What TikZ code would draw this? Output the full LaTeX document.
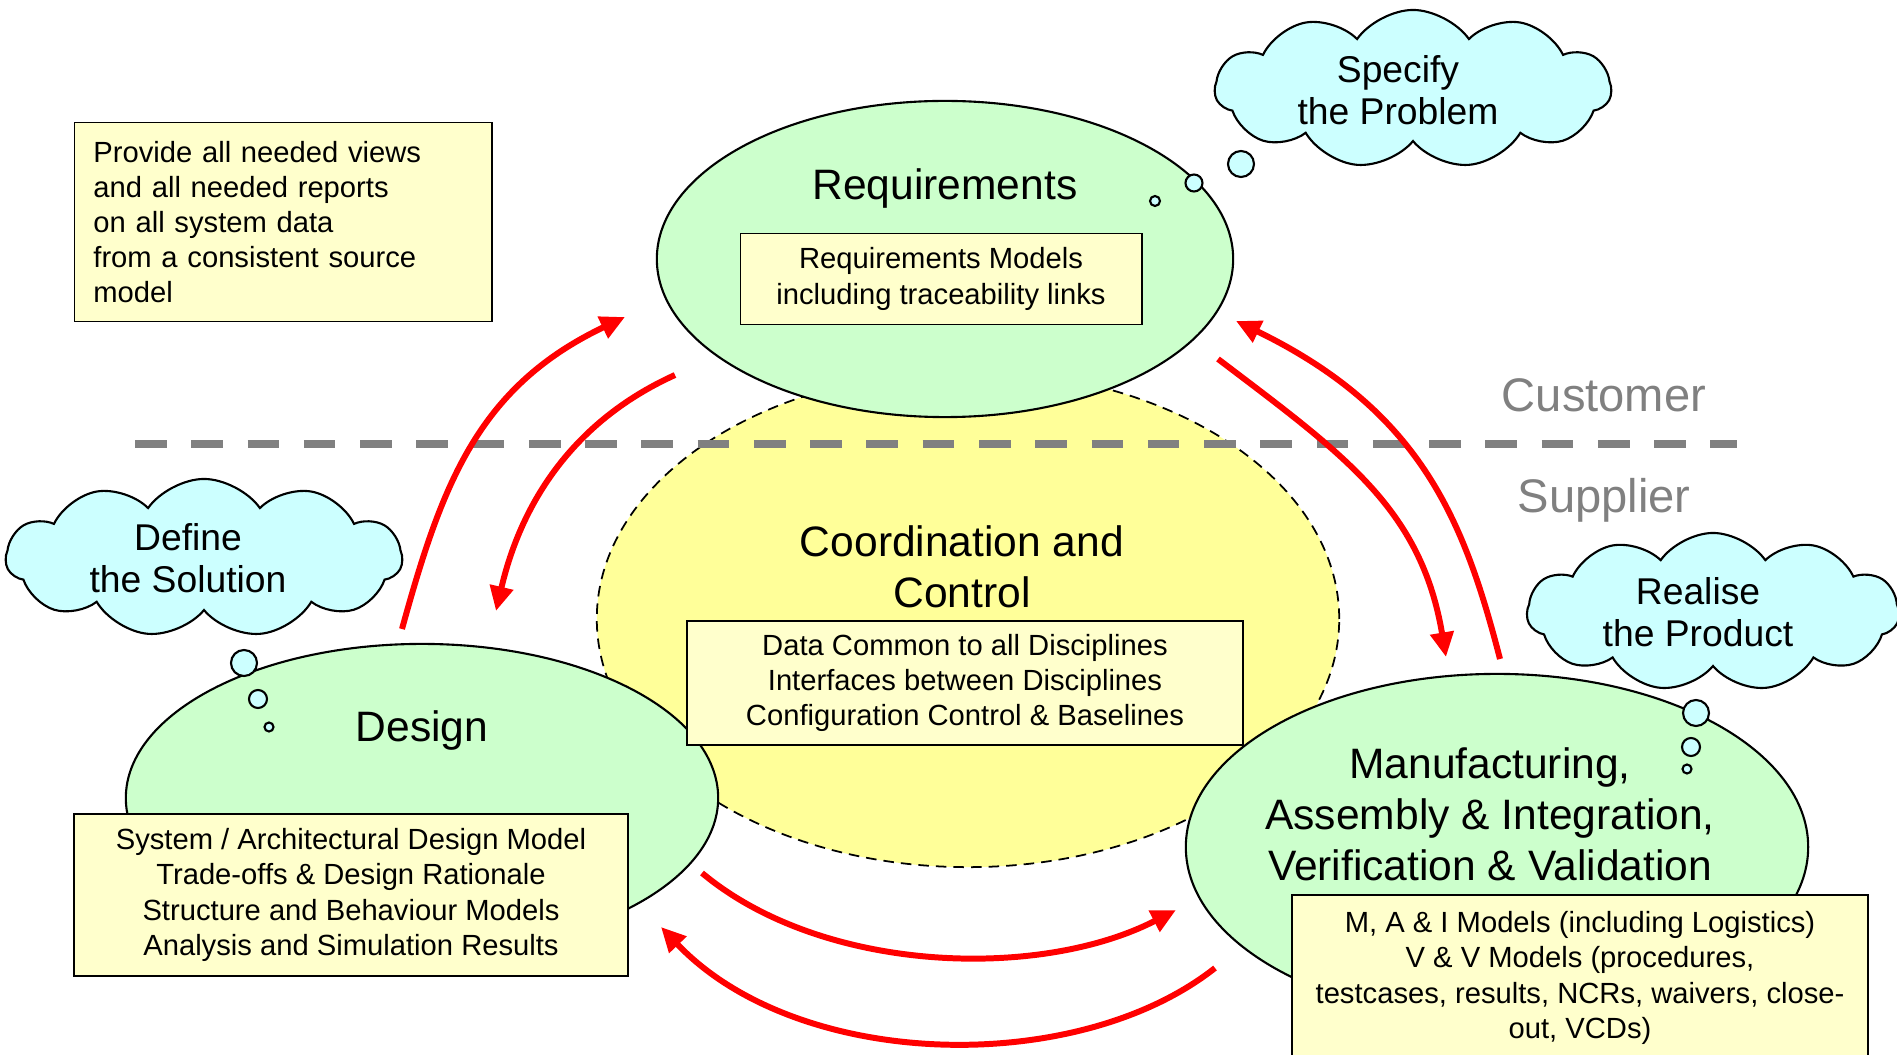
\documentclass[tikz,border=0pt]{standalone}
\usepackage{fontspec}
\setmainfont{Liberation Sans}
\usetikzlibrary{shapes.geometric,shapes.symbols,arrows.meta}

\definecolor{phasegreen}{RGB}{204,255,204}
\definecolor{coordyellow}{RGB}{255,255,153}
\definecolor{boxyellow}{RGB}{255,255,204}
\definecolor{cloudcyan}{RGB}{204,255,255}

\begin{document}
\begin{tikzpicture}[x=0.01cm, y=-0.01cm,
  phase/.style={ellipse, draw, fill=phasegreen, line width=0.6pt, inner sep=0pt},
  infobox/.style={draw, fill=boxyellow, line width=0.5pt, align=center,
    font=\fontsize{8.3}{10}\selectfont, inner sep=0pt},
  thought/.style={cloud, cloud puffs=11, cloud puff arc=110, cloud ignores aspect,
    draw, fill=cloudcyan, line width=0.6pt, minimum width=3.96cm, minimum height=1.58cm, inner sep=0pt},
  thoughttext/.style={align=center, font=\fontsize{10.6}{12}\selectfont},
  puff/.style={draw, fill=cloudcyan, line width=0.6pt},
  title/.style={align=center, font=\fontsize{12.1}{14.5}\selectfont},
  side/.style={text=gray, font=\fontsize{13.4}{16}\selectfont},
  flow/.style={draw=red, line width=1.7pt, -{Triangle[length=7pt,width=6.5pt]}}]
  \clip (0,0) rectangle (1897,1055);
  % coordination in the middle
  \node[ellipse, draw, dash pattern=on 3pt off 2pt, fill=coordyellow, line width=0.5pt,
    minimum width=7.42cm, minimum height=4.96cm, inner sep=0pt] (coord) at (968,619) {};
  % the three phases
  \node[phase, minimum width=5.76cm, minimum height=3.16cm] (req) at (945,259) {};
  \node[phase, minimum width=5.92cm, minimum height=3.08cm] (design) at (422,798) {};
  \node[phase, minimum width=6.22cm, minimum height=3.46cm] (mai) at (1497,847) {};
  % titles
  \node[title] (reqtitle) at (945,189) {Requirements};
  \node[title] (coordtitle) at (962,567) {Coordination and\\Control};
  \node[title] (designtitle) at (422,730) {Design};
  \node[title] (maititle) at (1490,814) {Manufacturing,\\Assembly \& Integration,\\Verification \& Validation};
  % model boxes
  \node[infobox, minimum width=4.01cm, minimum height=0.91cm] (reqmodels) at (941,279)
    {Requirements Models\\including traceability links};
  \node[infobox, minimum width=5.55cm, minimum height=1.24cm] (common) at (965,683)
    {Data Common to all Disciplines\\Interfaces between Disciplines\\Configuration Control \& Baselines};
  \node[infobox, minimum width=5.53cm, minimum height=1.62cm] (designmodels) at (351,895)
    {System / Architectural Design Model\\Trade-offs \& Design Rationale\\Structure and Behaviour Models\\Analysis and Simulation Results};
  \node[infobox, minimum width=5.76cm, minimum height=1.66cm] (maimodels) at (1580,978)
    {M, A \& I Models (including Logistics)\\V \& V Models (procedures,\\testcases, results, NCRs, waivers, close-\\out, VCDs)};
  \node[infobox, align=left, text width=3.79cm, minimum height=1.99cm, inner xsep=0.19cm] (note) at (283,222)
    {Provide all needed views\\and all needed reports\\on all system data\\from a consistent source\\model};
  % thought clouds
  \node[thought] (specify) at (1413,89) {};
  \node[thoughttext] (specifytext) at (1398,90) {Specify\\the Problem};
  \draw[puff] (1241,164) circle[radius=13];
  \draw[puff] (1194,183) circle[radius=8.5];
  \draw[puff] (1155,201) circle[radius=5];
  \node[thought] (define) at (204,558) {};
  \node[thoughttext] (definetext) at (188,558) {Define\\the Solution};
  \draw[puff] (244,663) circle[radius=13];
  \draw[puff] (258,699) circle[radius=9];
  \draw[puff] (269,727) circle[radius=4.5];
  \node[thought, minimum width=3.72cm] (realise) at (1713,612) {};
  \node[thoughttext] (realisetext) at (1698,612) {Realise\\the Product};
  \draw[puff] (1696,713) circle[radius=13];
  \draw[puff] (1691,747) circle[radius=9];
  \draw[puff] (1687,769) circle[radius=4.5];
  % customer / supplier boundary
  \coordinate (lineW) at (135,444);
  \coordinate (lineE) at (1737,444);
  \draw[gray, line width=2pt, dash pattern=on 9pt off 7pt] (lineW) -- (lineE);
  \node[side] (customer) at (1604,395) {Customer};
  \node[side] (supplier) at (1604,500) {Supplier};
  % flows between phases
  \coordinate (designout) at (402,629);
  \coordinate (reqin) at (625,317);
  \coordinate (reqout) at (675,375);
  \coordinate (designin) at (496,611);
  \coordinate (maiout) at (1500,659);
  \coordinate (reqinR) at (1236,321);
  \coordinate (reqoutR) at (1218,359);
  \coordinate (maiin) at (1446,657);
  \coordinate (designoutB) at (702,873);
  \coordinate (maiinB) at (1176,910);
  \coordinate (maioutB) at (1215,968);
  \coordinate (designinB) at (661,927);
  \draw[flow] (designout) .. controls (442,484) and (478,387) .. (reqin);
  \draw[flow] (reqout) .. controls (569,423) and (520,508) .. (designin);
  \draw[flow] (maiout) .. controls (1464,520) and (1421,411) .. (reqinR);
  \draw[flow] (reqoutR) .. controls (1343,454) and (1421,508) .. (maiin);
  \draw[flow] (designoutB) .. controls (823,974) and (1040,980) .. (maiinB);
  \draw[flow] (maioutB) .. controls (1077,1077) and (798,1071) .. (designinB);
\end{tikzpicture}
\end{document}
